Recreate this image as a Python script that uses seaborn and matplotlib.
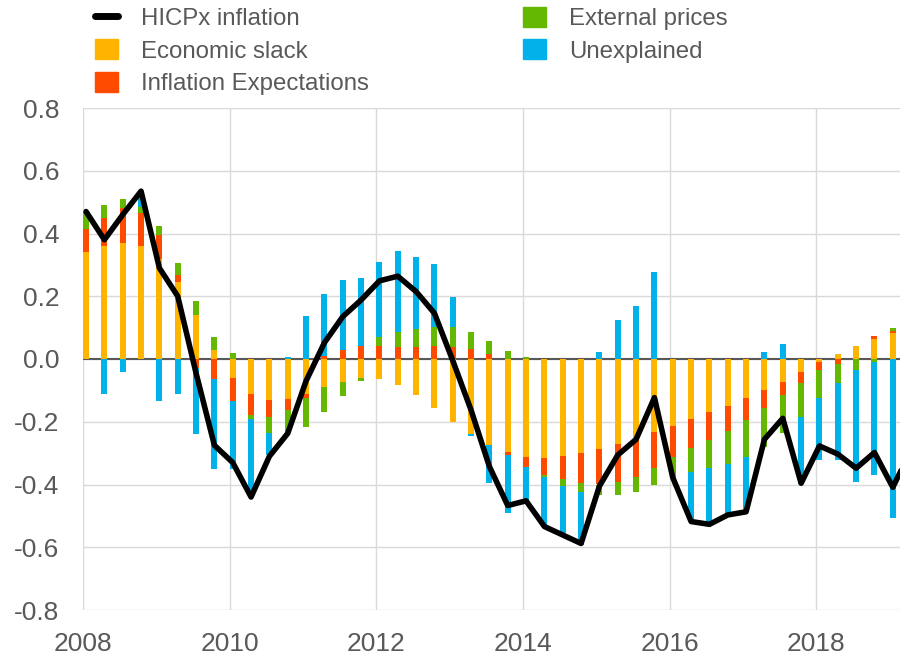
import numpy as np
import pandas as pd
import seaborn as sns
import matplotlib.pyplot as plt
from matplotlib.lines import Line2D
from matplotlib.patches import Patch

# quarterly decomposition of HICPx inflation, 2008Q1 - 2019Q1
quarters = pd.period_range("2008Q1", "2019Q1", freq="Q")
line_quarters = pd.period_range("2008Q1", "2019Q2", freq="Q")

slack = [0.34, 0.36, 0.37, 0.36, 0.32, 0.245, 0.14, 0.03, -0.06, -0.113,
         -0.13, -0.128, -0.11, -0.09, -0.073, -0.062, -0.064, -0.082, -0.116, -0.156,
         -0.2, -0.24, -0.274, -0.298, -0.312, -0.316, -0.31, -0.3, -0.286, -0.27,
         -0.256, -0.233, -0.213, -0.191, -0.17, -0.149, -0.125, -0.1, -0.072, -0.041,
         -0.011, 0.017, 0.041, 0.063, 0.082]
expectations = [0.075, 0.09, 0.11, 0.105, 0.075, 0.023, -0.03, -0.065, -0.075, -0.065,
                -0.055, -0.036, -0.014, 0.01, 0.03, 0.043, 0.042, 0.038, 0.037, 0.04,
                0.039, 0.032, 0.015, -0.007, -0.032, -0.054, -0.074, -0.094, -0.114, -0.123,
                -0.121, -0.115, -0.1, -0.094, -0.088, -0.082, -0.069, -0.056, -0.044, -0.034,
                -0.025, -0.015, 0.0, 0.01, 0.008]
external = [0.055, 0.04, 0.03, 0.02, 0.03, 0.037, 0.045, 0.04, 0.02, -0.013,
            -0.05, -0.07, -0.092, -0.08, -0.045, -0.008, 0.029, 0.049, 0.058, 0.061,
            0.062, 0.053, 0.043, 0.024, 0.006, -0.007, -0.021, -0.03, -0.035, -0.041,
            -0.046, -0.054, -0.062, -0.075, -0.09, -0.105, -0.119, -0.126, -0.121, -0.111,
            -0.089, -0.062, -0.035, -0.009, 0.009]
unexplained = [0.0, -0.11, -0.04, 0.035, -0.135, -0.11, -0.21, -0.285, -0.215, -0.235,
               -0.07, 0.005, 0.138, 0.197, 0.222, 0.216, 0.238, 0.256, 0.23, 0.202,
               0.097, -0.005, -0.122, -0.185, -0.116, -0.157, -0.151, -0.17, 0.023, 0.123,
               0.17, 0.277, -0.005, -0.153, -0.17, -0.161, -0.167, 0.022, 0.047, -0.212,
               -0.197, -0.245, -0.357, -0.361, -0.508]
hicpx = [0.47, 0.38, 0.46, 0.535, 0.29, 0.2, -0.045, -0.275, -0.33, -0.44,
         -0.31, -0.237, -0.07, 0.052, 0.135, 0.188, 0.249, 0.264, 0.215, 0.146,
         -0.005, -0.163, -0.343, -0.467, -0.452, -0.534, -0.561, -0.588, -0.405, -0.306,
         -0.256, -0.123, -0.378, -0.518, -0.527, -0.497, -0.487, -0.256, -0.189, -0.396,
         -0.277, -0.303, -0.348, -0.298, -0.409, -0.29]

components = ["Economic slack", "Inflation Expectations", "External prices", "Unexplained"]
colors = ["#FFB400", "#FF4B00", "#65B800", "#00B1EA"]
y_ticks = [-0.8, -0.6, -0.4, -0.2, 0.0, 0.2, 0.4, 0.6, 0.8]


def to_year(q):
    # middle of the first month of each quarter
    return q.year + ((q.quarter - 1) * 3 + 0.5) / 12


sns.set_theme(style="white")
plt.rcParams["font.family"] = ["Liberation Sans", "DejaVu Sans"]
text_col = "#595959"

fig = plt.figure(figsize=(9, 6.55), dpi=100)
ax = fig.add_axes([83 / 900, 45 / 655, 817 / 900, 502 / 655])

x = np.array([to_year(q) for q in quarters])
x_line = np.array([to_year(q) for q in line_quarters])

pos_base = np.zeros(len(x))
neg_base = np.zeros(len(x))
for vals, col in zip([slack, expectations, external, unexplained], colors):
    v = np.array(vals)
    base = np.where(v >= 0, pos_base, neg_base)
    ax.bar(x, v, bottom=base, width=0.082, color=col, linewidth=0, zorder=2)
    pos_base += np.clip(v, 0, None)
    neg_base += np.clip(v, None, 0)

ax.axhline(0, color="#595959", lw=1.5, zorder=1.5)
sns.lineplot(x=x_line, y=hicpx, color="black", lw=4, ax=ax, zorder=3)

ax.set_xlim(2008, 2019.14)
ax.set_ylim(-0.8, 0.8)
ax.set_xticks(range(2008, 2019, 2))
ax.set_yticks(y_ticks)
ax.set_yticklabels([f"{t:.1f}" for t in y_ticks])
ax.grid(True, color="#d9d9d9", lw=1, zorder=0)
ax.set_axisbelow(True)
for s in ax.spines.values():
    s.set_visible(False)
ax.tick_params(axis="y", length=0, pad=17, labelsize=19, labelcolor=text_col)
ax.tick_params(axis="x", length=0, pad=16, labelsize=19, labelcolor=text_col)

handles = [Line2D([0], [0], color="black", lw=5)] + [Patch(color=c) for c in colors]
labels = ["HICPx inflation"] + components
fig.legend(handles, labels,
           loc="upper left", bbox_to_anchor=(95 / 900, 1 - 7 / 655), ncol=2,
           frameon=False, fontsize=17.3, labelcolor=text_col,
           handlelength=0.95, handleheight=0.9, handletextpad=0.95,
           labelspacing=0.38, columnspacing=6.43, borderpad=0, borderaxespad=0)

plt.savefig("out.png", dpi=100)
